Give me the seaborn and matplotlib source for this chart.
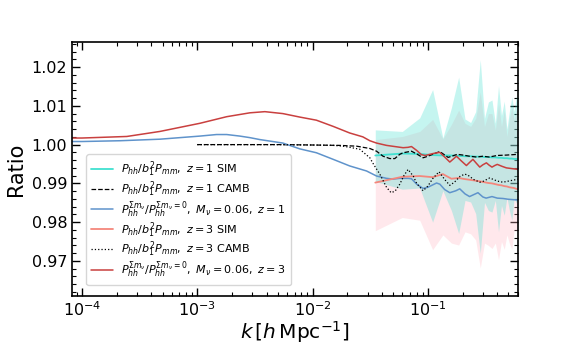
import numpy as np
import matplotlib
matplotlib.use("Agg")
import matplotlib.pyplot as plt
import matplotlib.ticker as mtick
import seaborn as sns

# ---- data ----
# simulation bins (k in h/Mpc)
k_sim = [0.035, 0.06, 0.085, 0.11, 0.135, 0.16, 0.185, 0.21, 0.235, 0.26, 0.285, 0.31,
         0.335, 0.36, 0.385, 0.41, 0.435, 0.46, 0.485, 0.51, 0.535, 0.56, 0.585, 0.61]

sim_z1 = [0.9972, 0.9977, 0.9976, 0.9973, 0.9972, 0.9972, 0.9971, 0.9970, 0.9970, 0.9969,
          0.9969, 0.9968, 0.9968, 0.9967, 0.9967, 0.9966, 0.9966, 0.9965, 0.9965, 0.9964,
          0.9964, 0.9963, 0.9963, 0.9962]
sim_z1_hi = [1.0038, 1.0034, 1.0069, 1.0142, 1.0017, 1.0095, 1.0174, 1.0066, 1.0057, 1.0085,
             1.0219, 1.0068, 1.0110, 1.0115, 1.0055, 1.0152, 1.0075, 1.0112, 1.0040, 1.0087,
             1.0123, 1.0085, 1.0125, 1.0120]
sim_z1_lo = [0.9905, 0.9885, 0.9888, 0.9800, 0.9881, 0.9830, 0.9771, 0.9856, 0.9852, 0.9822,
             0.9720, 0.9851, 0.9830, 0.9826, 0.9856, 0.9775, 0.9843, 0.9818, 0.9864, 0.9830,
             0.9805, 0.9860, 0.9850, 0.9860]

sim_z3 = [0.9902, 0.9917, 0.9919, 0.9916, 0.9924, 0.9912, 0.9914, 0.9911, 0.9909, 0.9907,
          0.9905, 0.9903, 0.9901, 0.9900, 0.9898, 0.9896, 0.9895, 0.9893, 0.9892, 0.9890,
          0.9889, 0.9888, 0.9886, 0.9885]
sim_z3_hi = [1.0013, 1.0021, 1.0034, 1.0065, 1.0015, 1.0052, 1.0089, 1.0055, 1.0047, 1.0068,
             1.0136, 1.0047, 1.0080, 1.0080, 1.0038, 1.0106, 1.0047, 1.0089, 1.0021, 1.0068,
             1.0097, 1.0064, 1.0089, 1.0093]
sim_z3_lo = [0.9778, 0.9812, 0.9805, 0.9729, 0.9767, 0.9746, 0.9741, 0.9775, 0.9770, 0.9754,
             0.9682, 0.9746, 0.9740, 0.9732, 0.9746, 0.9703, 0.9750, 0.9730, 0.9767, 0.9745,
             0.9730, 0.9780, 0.9778, 0.9805]

# CAMB z=1 (dashed)
k_camb1 = [1.0e-3, 5.0e-3, 1.0e-2, 1.72e-2, 2.41e-2, 3.14e-2, 3.59e-2, 4.09e-2, 4.68e-2,
           5.17e-2, 5.71e-2, 6.1e-2, 7.21e-2, 8.0e-2, 9.09e-2, 0.1, 0.119, 0.127, 0.15,
           0.18, 0.202, 0.23, 0.264, 0.30, 0.34, 0.40, 0.48, 0.61]
camb1 = [1.0000, 1.0000, 0.9999, 0.9998, 0.9996, 0.9990, 0.9983, 0.9970, 0.9964,
         0.9964, 0.9975, 0.9979, 0.9983, 0.9976, 0.9966, 0.9970, 0.9979, 0.9982, 0.9967,
         0.9975, 0.9973, 0.9970, 0.9968, 0.9970, 0.9968, 0.9972, 0.9973, 0.9975]

# CAMB z=3 (dotted)
k_camb3 = [1.0e-3, 5.0e-3, 1.0e-2, 1.51e-2, 1.84e-2, 2.1e-2, 2.57e-2, 3.14e-2, 3.4e-2,
           3.83e-2, 4.38e-2, 4.8e-2, 5.2e-2, 5.71e-2, 6.2e-2, 6.74e-2, 7.5e-2, 8.0e-2,
           9.09e-2, 0.1, 0.11, 0.125, 0.14, 0.155, 0.17, 0.19, 0.209, 0.223, 0.25, 0.282,
           0.30, 0.344, 0.40, 0.448, 0.52, 0.61]
camb3 = [1.0000, 1.0000, 0.9999, 0.9998, 0.9996, 0.9993, 0.9988, 0.9966, 0.9948,
         0.9924, 0.9890, 0.9876, 0.9880, 0.9898, 0.9920, 0.9936, 0.9918, 0.9900,
         0.9881, 0.9893, 0.9912, 0.9930, 0.9910, 0.9895, 0.9903, 0.9918, 0.9924, 0.9921, 0.9910, 0.9903,
         0.9905, 0.9914, 0.9906, 0.9903, 0.9907, 0.9911]

# neutrino ratio z=1 (blue)
k_nu1 = [8.2e-5, 1.0e-4, 2.14e-4, 4.75e-4, 1.055e-3, 1.47e-3, 1.8e-3, 2.34e-3, 2.86e-3,
         3.49e-3, 5.53e-3, 7.76e-3, 1.08e-2, 1.51e-2, 2.1e-2, 2.94e-2, 3.59e-2, 4.38e-2,
         5.0e-2, 5.71e-2, 6.74e-2, 7.21e-2, 8.0e-2, 9.09e-2, 0.1, 0.119, 0.127, 0.14, 0.155,
         0.175, 0.189, 0.21, 0.23, 0.25, 0.272, 0.30, 0.32, 0.36, 0.40, 0.45, 0.50, 0.61]
nu1 = [1.0008, 1.0008, 1.0010, 1.0014, 1.0022, 1.0026, 1.0026, 1.0022, 1.0018,
       1.0013, 1.0004, 0.9989, 0.9979, 0.9962, 0.9945, 0.9932, 0.9919, 0.9913,
       0.9911, 0.9913, 0.9913, 0.9912, 0.9898, 0.9887, 0.9890, 0.9901, 0.9898, 0.9884, 0.9876,
       0.9881, 0.9886, 0.9873, 0.9866, 0.9871, 0.9876, 0.9865, 0.9862, 0.9866, 0.9862, 0.9861, 0.9859, 0.9857]

# neutrino ratio z=3 (red)
k_nu3 = [8.2e-5, 1.0e-4, 2.45e-4, 4.75e-4, 1.055e-3, 1.8e-3, 2.86e-3, 3.86e-3, 5.53e-3,
         7.76e-3, 1.08e-2, 1.51e-2, 2.1e-2, 2.73e-2, 3.14e-2, 3.59e-2, 4.38e-2, 5.17e-2,
         6.1e-2, 6.74e-2, 7.21e-2, 8.0e-2, 8.8e-2, 9.5e-2, 0.111, 0.1268, 0.14, 0.155, 0.165,
         0.177, 0.195, 0.216, 0.23, 0.246, 0.265, 0.282, 0.30, 0.322, 0.34, 0.36, 0.38, 0.40,
         0.44, 0.48, 0.61]
nu3 = [1.0017, 1.0017, 1.0021, 1.0034, 1.0055, 1.0072, 1.0082, 1.0085, 1.0080,
       1.0071, 1.0063, 1.0047, 1.0030, 1.0020, 1.0010, 1.0004, 0.9998, 0.9995,
       0.9992, 0.9993, 0.9995, 0.9985, 0.9974, 0.9972, 0.9977, 0.9980, 0.9968, 0.9955, 0.9962,
       0.9970, 0.9958, 0.9946, 0.9954, 0.9962, 0.9951, 0.9942, 0.9948, 0.9953, 0.9947, 0.9942, 0.9946, 0.9949,
       0.9944, 0.9940, 0.9936]

labels = [r'$P_{hh}/b_1^2P_{mm},\ z=1$ SIM',
          r'$P_{hh}/b_1^2P_{mm},\ z=1$ CAMB',
          r'$P_{hh}^{\Sigma m_\nu}/P_{hh}^{\Sigma m_\nu=0},\ M_\nu=0.06,\ z=1$',
          r'$P_{hh}/b_1^2P_{mm},\ z=3$ SIM',
          r'$P_{hh}/b_1^2P_{mm},\ z=3$ CAMB',
          r'$P_{hh}^{\Sigma m_\nu}/P_{hh}^{\Sigma m_\nu=0},\ M_\nu=0.06,\ z=3$']

c_cyan = '#40e0d0'
c_salmon = '#f4877c'
c_blue = '#5f93cb'
c_red = '#c9403f'

sns.set_style('ticks')
plt.rcParams.update({'font.family': ['DejaVu Sans'], 'mathtext.fontset': 'dejavusans',
                     'axes.edgecolor': 'black', 'xtick.color': 'black', 'ytick.color': 'black',
                     'text.color': 'black', 'axes.labelcolor': 'black'})

fig = plt.figure(figsize=(5.76, 3.46), dpi=100)
ax = fig.add_axes([0.125, 0.145, 0.775, 0.734])

# error bands
ax.fill_between(k_sim, sim_z3_lo, sim_z3_hi, color='lightpink', alpha=0.3, lw=0)
ax.fill_between(k_sim, sim_z1_lo, sim_z1_hi, color=c_cyan, alpha=0.3, lw=0)

sns.lineplot(x=k_sim, y=sim_z1, ax=ax, color=c_cyan, lw=1.3, label=labels[0])
sns.lineplot(x=k_camb1, y=camb1, ax=ax, color='black', lw=0.9, linestyle='--', label=labels[1])
sns.lineplot(x=k_nu1, y=nu1, ax=ax, color=c_blue, lw=1.1, label=labels[2])
sns.lineplot(x=k_sim, y=sim_z3, ax=ax, color=c_salmon, lw=1.3, label=labels[3])
sns.lineplot(x=k_camb3, y=camb3, ax=ax, color='black', lw=0.9, linestyle=':', label=labels[4])
sns.lineplot(x=k_nu3, y=nu3, ax=ax, color=c_red, lw=1.1, label=labels[5])

ax.set_xscale('log')
ax.set_xlim(8.2e-5, 0.61)
ax.set_ylim(0.961, 1.0265)
ax.yaxis.set_major_locator(mtick.MultipleLocator(0.01))
ax.yaxis.set_minor_locator(mtick.MultipleLocator(0.002))
ax.yaxis.set_major_formatter(mtick.FormatStrFormatter('%.2f'))

ax.tick_params(which='both', direction='in', top=True, right=True, labelsize=11.5)
ax.tick_params(which='major', length=6, width=1)
ax.tick_params(which='minor', length=3, width=0.8)
for s in ax.spines.values():
    s.set_linewidth(1.2)

ax.set_xlabel(r'$k\,[h\,{\rm Mpc}^{-1}]$', fontsize=14.5, labelpad=0)
ax.set_ylabel('Ratio', fontsize=15, labelpad=4)

ax.legend(loc='lower left', bbox_to_anchor=(0.02, 0.02), fontsize=8.0,
          handlelength=1.9, labelspacing=0.02, borderpad=0.45)

plt.savefig('out.png', dpi=100)
